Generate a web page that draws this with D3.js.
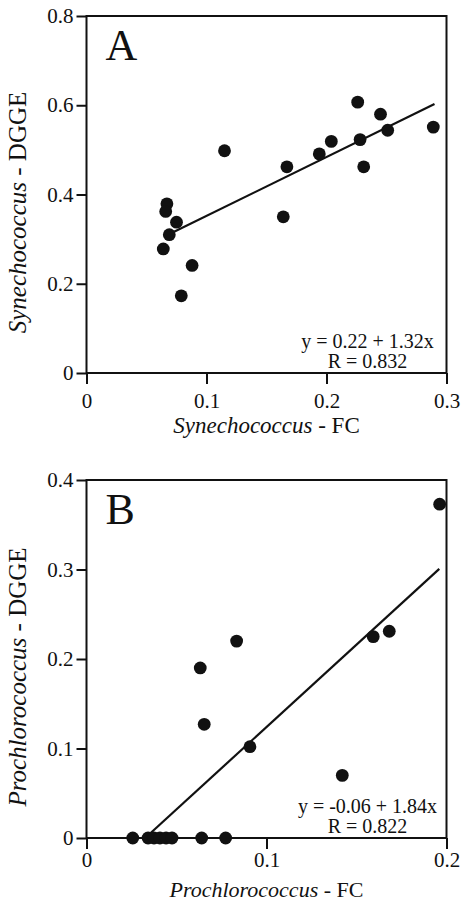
<!DOCTYPE html>
<html>
<head>
<meta charset="utf-8">
<script src="https://cdn.jsdelivr.net/npm/d3@7/dist/d3.min.js"></script>
<style>
  html, body { margin: 0; padding: 0; background: #fff; }
  svg { display: block; }
  text { font-family: "Liberation Serif", "Times New Roman", serif; fill: #111; }
</style>
</head>
<body>
<svg id="chart" width="462" height="902"></svg>
<script>
// ---- Panel A data (Synechococcus) ----
const synFC   = [0.115, 0.167, 0.067, 0.066, 0.075, 0.069, 0.064, 0.088, 0.079, 0.164, 0.226, 0.245, 0.289, 0.251, 0.204, 0.228, 0.194, 0.231];
const synDGGE = [0.498, 0.462, 0.379, 0.362, 0.338, 0.310, 0.278, 0.241, 0.173, 0.350, 0.607, 0.580, 0.551, 0.544, 0.519, 0.523, 0.491, 0.462];
const synXTicks = [0, 0.1, 0.2, 0.3];
const synYTicks = [0, 0.2, 0.4, 0.6, 0.8];
const synFit = { a: 0.22, b: 1.32, x0: 0.073, x1: 0.29 };
const synEq = ["y = 0.22 + 1.32x", "R = 0.832"];

// ---- Panel B data (Prochlorococcus) ----
const proFC   = [0.0834, 0.0632, 0.0654, 0.0908, 0.1962, 0.1682, 0.1593, 0.1421, 0.0257, 0.0342, 0.0375, 0.0408, 0.0442, 0.0475, 0.064, 0.0773];
const proDGGE = [0.220, 0.190, 0.127, 0.102, 0.373, 0.231, 0.225, 0.070, 0, 0, 0, 0, 0, 0, 0, 0];
const proXTicks = [0, 0.1, 0.2];
const proYTicks = [0, 0.1, 0.2, 0.3, 0.4];
const proFit = { a: -0.06, b: 1.84, x0: 0.0326, x1: 0.196 };
const proEq = ["y = -0.06 + 1.84x", "R = 0.822"];

const svg = d3.select("#chart");

function panel(o) {
  const g = svg.append("g");
  const x = d3.scaleLinear().domain(o.xDomain).range([o.left, o.right]);
  const y = d3.scaleLinear().domain(o.yDomain).range([o.bottom, o.top]);

  // frame
  g.append("rect")
    .attr("x", o.left).attr("y", o.top)
    .attr("width", o.right - o.left).attr("height", o.bottom - o.top)
    .attr("fill", "none").attr("stroke", "#111").attr("stroke-width", 2);

  const fmt = d => d === 0 ? "0" : d3.format(".1f")(d);

  const xa = g.append("g").attr("transform", `translate(0,${o.bottom})`)
    .call(d3.axisBottom(x).tickValues(o.xTicks).tickFormat(fmt).tickSize(11).tickPadding(o.xPad));
  const ya = g.append("g").attr("transform", `translate(${o.left},0)`)
    .call(d3.axisLeft(y).tickValues(o.yTicks).tickFormat(fmt).tickSize(10).tickPadding(3));
  [xa, ya].forEach(a => {
    a.select(".domain").remove();
    a.selectAll("line").attr("stroke", "#111").attr("stroke-width", 2);
    a.selectAll("text").attr("font-size", 21).attr("fill", "#111")
      .style("font-family", '"Liberation Serif", serif');
  });

  // regression line
  g.append("line")
    .attr("x1", x(o.fit.x0)).attr("y1", y(o.fit.a + o.fit.b * o.fit.x0))
    .attr("x2", x(o.fit.x1)).attr("y2", y(o.fit.a + o.fit.b * o.fit.x1))
    .attr("stroke", "#111").attr("stroke-width", 2.2);

  // points
  g.selectAll("circle.pt").data(o.xs.map((v, i) => [v, o.ys[i]])).enter()
    .append("circle").attr("class", "pt")
    .attr("cx", d => x(d[0])).attr("cy", d => y(d[1])).attr("r", 6.4)
    .attr("fill", "#111");

  // panel letter
  g.append("text").attr("x", o.left + 19).attr("y", o.top + 44)
    .attr("font-size", 44).text(o.letter);

  // equation
  const ex = (o.left + o.right) / 2 + 101;
  g.append("text").attr("x", ex).attr("y", o.bottom - 25)
    .attr("text-anchor", "middle").attr("font-size", 20).text(o.eq[0]);
  g.append("text").attr("x", ex).attr("y", o.bottom - 5)
    .attr("text-anchor", "middle").attr("font-size", 20).text(o.eq[1]);

  // x title
  const xt = g.append("text").attr("x", (o.left + o.right) / 2).attr("y", o.bottom + o.titleGap)
    .attr("text-anchor", "middle").attr("font-size", o.titleSize);
  xt.append("tspan").attr("font-style", "italic").text(o.name);
  xt.append("tspan").text(" - FC");

  // y title
  const yt = g.append("text")
    .attr("transform", `translate(${o.left - 61},${(o.top + o.bottom) / 2 + 18}) rotate(-90)`)
    .attr("text-anchor", "middle").attr("font-size", 25);
  yt.append("tspan").attr("font-style", "italic").text(o.name);
  yt.append("tspan").text(" - DGGE");
}

panel({
  left: 86.5, right: 446.5, top: 16, bottom: 373,
  xDomain: [0, 0.3], yDomain: [0, 0.8],
  xTicks: synXTicks, yTicks: synYTicks,
  xs: synFC, ys: synDGGE, fit: synFit, eq: synEq,
  letter: "A", name: "Synechococcus", xPad: 9, titleGap: 60, titleSize: 23
});

panel({
  left: 86.5, right: 446.5, top: 480, bottom: 838,
  xDomain: [0, 0.2], yDomain: [0, 0.4],
  xTicks: proXTicks, yTicks: proYTicks,
  xs: proFC, ys: proDGGE, fit: proFit, eq: proEq,
  letter: "B", name: "Prochlorococcus", xPad: 3, titleGap: 59, titleSize: 22
});
</script>
</body>
</html>
